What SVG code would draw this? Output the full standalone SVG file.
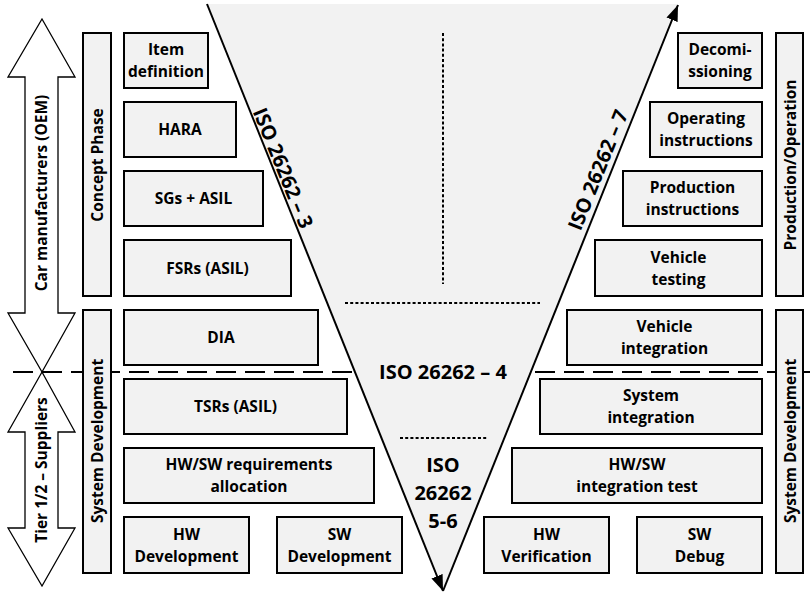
<svg xmlns="http://www.w3.org/2000/svg" width="810" height="594" viewBox="0 0 810 594">
<style>
text{font-family:"Open Sans","Noto Sans","DejaVu Sans",sans-serif;font-weight:bold;fill:#000;text-anchor:middle}
.t{font-size:15.5px}
.big{font-size:20px}
.box{fill:#f2f2f2;stroke:#000;stroke-width:2}
.arr{fill:none;stroke:#000;stroke-width:1.3;stroke-linejoin:miter}
.dot{fill:none;stroke:#000;stroke-width:2;stroke-dasharray:3 2.2}
.dash{fill:none;stroke:#000;stroke-width:2;stroke-dasharray:20 9}
.vline{fill:none;stroke:#000;stroke-width:2}
</style>
<defs>
<marker id="ah" markerUnits="userSpaceOnUse" markerWidth="18" markerHeight="14" refX="16" refY="6" orient="auto" viewBox="0 0 18 12">
<path d="M0,0 L16,6 L0,12 Z" fill="#000"/>
</marker>
</defs>
<g id="org-arrows">
<polygon class="arr" points="42,19 75,77 58,77 58,313 75,313 42,372 8,313 25,313 25,77 8,77"/>
<polygon class="arr" points="42,372 75,432 58,432 58,528 75,528 42,586 8,528 25,528 25,432 8,432"/>
<text class="t" transform="translate(47,193) rotate(-90)">Car manufacturers (OEM)</text>
<text class="t" transform="translate(47,470) rotate(-90)">Tier 1/2 – Suppliers</text>
</g>
<g id="connectors">
<line class="dash" x1="13" y1="372" x2="810" y2="372"/>
</g>
<g id="vmodel">
<polygon points="207,4 678,4 443,592" fill="#f2f2f2"/>
<line class="dot" x1="443" y1="33" x2="443" y2="284"/>
<line class="dot" x1="345" y1="303" x2="540" y2="303"/>
<line class="dot" x1="400" y1="438" x2="487" y2="438"/>
<line class="vline" x1="207" y1="4" x2="443" y2="591" marker-end="url(#ah)"/>
<line class="vline" x1="443" y1="591" x2="678" y2="5" marker-end="url(#ah)"/>
<text class="big" transform="translate(283,168) rotate(68)" y="7">ISO 26262 – 3</text>
<text class="big" transform="translate(598,170) rotate(-68)" y="7">ISO 26262 – 7</text>
<text class="big" x="443" y="379">ISO 26262 – 4</text>
<text class="big" x="443" y="472">ISO</text>
<text class="big" x="443" y="500">26262</text>
<text class="big" x="443" y="528">5-6</text>
</g>
<g id="bar-concept"><rect class="box" x="83" y="33" width="28" height="263"/><text class="t" transform="translate(97,165) rotate(-90)" y="5.5">Concept Phase</text></g>
<g id="bar-sysdev-left"><rect class="box" x="83" y="310" width="28" height="263"/><text class="t" transform="translate(97,441) rotate(-90)" y="5.5">System Development</text></g>
<g id="bar-prodop"><rect class="box" x="776" y="33" width="27" height="263"/><text class="t" transform="translate(790,165) rotate(-90)" y="5.5">Production/Operation</text></g>
<g id="bar-sysdev-right"><rect class="box" x="776" y="310" width="27" height="263"/><text class="t" transform="translate(790,441) rotate(-90)" y="5.5">System Development</text></g>
<g id="item-definition"><rect class="box" x="124" y="33" width="84" height="55"/><text class="t" x="166" y="55">Item</text><text class="t" x="166" y="77">definition</text></g>
<g id="hara"><rect class="box" x="124" y="102" width="112" height="55"/><text class="t" x="180" y="135">HARA</text></g>
<g id="sgs-asil"><rect class="box" x="124" y="171" width="139" height="55"/><text class="t" x="193.5" y="204">SGs + ASIL</text></g>
<g id="fsrs"><rect class="box" x="124" y="240" width="167" height="56"/><text class="t" x="207.5" y="273.5">FSRs (ASIL)</text></g>
<g id="dia"><rect class="box" x="124" y="310" width="194" height="55"/><text class="t" x="221" y="343">DIA</text></g>
<g id="tsrs"><rect class="box" x="124" y="379" width="223" height="55"/><text class="t" x="235.5" y="412">TSRs (ASIL)</text></g>
<g id="hwsw-req"><rect class="box" x="124" y="448" width="250" height="55"/><text class="t" x="249" y="470">HW/SW requirements</text><text class="t" x="249" y="492">allocation</text></g>
<g id="hw-dev"><rect class="box" x="124" y="517" width="125" height="56"/><text class="t" x="186.5" y="539.5">HW</text><text class="t" x="186.5" y="561.5">Development</text></g>
<g id="sw-dev"><rect class="box" x="277" y="517" width="125" height="56"/><text class="t" x="339.5" y="539.5">SW</text><text class="t" x="339.5" y="561.5">Development</text></g>
<g id="decomissioning"><rect class="box" x="678" y="33" width="84" height="55"/><text class="t" x="720" y="55">Decomi-</text><text class="t" x="720" y="77">ssioning</text></g>
<g id="operating"><rect class="box" x="650" y="102" width="112" height="55"/><text class="t" x="706" y="124">Operating</text><text class="t" x="706" y="146">instructions</text></g>
<g id="production"><rect class="box" x="623" y="171" width="139" height="55"/><text class="t" x="692.5" y="193">Production</text><text class="t" x="692.5" y="215">instructions</text></g>
<g id="vehicle-testing"><rect class="box" x="595" y="240" width="167" height="56"/><text class="t" x="678.5" y="262.5">Vehicle</text><text class="t" x="678.5" y="284.5">testing</text></g>
<g id="vehicle-integration"><rect class="box" x="567" y="310" width="195" height="55"/><text class="t" x="664.5" y="332">Vehicle</text><text class="t" x="664.5" y="354">integration</text></g>
<g id="system-integration"><rect class="box" x="540" y="379" width="222" height="55"/><text class="t" x="651" y="401">System</text><text class="t" x="651" y="423">integration</text></g>
<g id="hwsw-int"><rect class="box" x="512" y="448" width="250" height="55"/><text class="t" x="637" y="470">HW/SW</text><text class="t" x="637" y="492">integration test</text></g>
<g id="hw-ver"><rect class="box" x="484" y="517" width="125" height="56"/><text class="t" x="546.5" y="539.5">HW</text><text class="t" x="546.5" y="561.5">Verification</text></g>
<g id="sw-debug"><rect class="box" x="637" y="517" width="125" height="56"/><text class="t" x="699.5" y="539.5">SW</text><text class="t" x="699.5" y="561.5">Debug</text></g>
</svg>
